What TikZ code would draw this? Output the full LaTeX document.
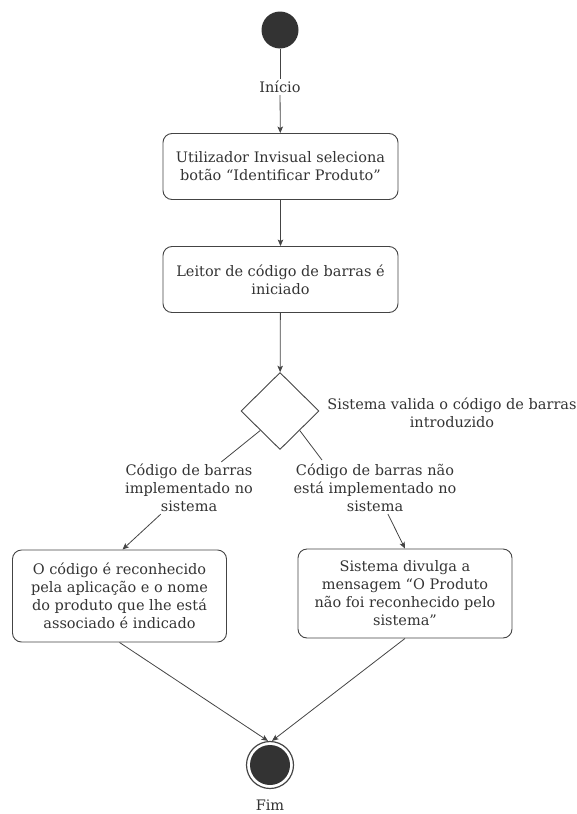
\documentclass[tikz,border=0pt]{standalone}
\usepackage{fontspec}
\setmainfont{DejaVu Serif}
\usetikzlibrary{shapes.geometric,arrows.meta}
\definecolor{ink}{HTML}{333333}
\definecolor{edge}{HTML}{444444}
\begin{document}
\begin{tikzpicture}[x=1pt,y=-1pt,
  txt/.style={font=\fontsize{14.5}{18}\selectfont, text=ink, align=center, inner sep=2pt},
  action/.style={txt, draw=edge, line width=0.9pt, rounded corners=9pt,
    minimum width=235pt, minimum height=66pt},
  decision/.style={diamond, draw=edge, line width=0.9pt, minimum width=78pt,
    minimum height=77pt, inner sep=0pt},
  startdot/.style={circle, fill=ink, minimum size=37pt, inner sep=0pt},
  enddot/.style={circle, draw=edge, line width=1.2pt, minimum size=47pt, inner sep=0pt},
  flow/.style={draw=edge, line width=0.8pt},
  flowarrow/.style={flow, -{Stealth[length=6.5pt,width=5.5pt,inset=1.5pt]}}
]
\useasboundingbox (0,0) rectangle (576,814);

% nodes
\node[startdot] (start) at (280,30) {};
\node[txt] (linit) at (280,87) {Início};
\node[action] (b1) at (280.5,166.5) {Utilizador Invisual seleciona\\botão “Identificar Produto”};
\node[action] (b2) at (280.5,279.5) {Leitor de código de barras é\\iniciado};
\node[decision] (dia) at (280,411) {};
\node[txt] (lq) at (452,412.5) {Sistema valida o código de barras\\introduzido};
\node[txt] (labL) at (189,488) {Código de barras\\implementado no\\sistema};
\node[txt] (labR) at (375,488) {Código de barras não\\está implementado no\\sistema};
\node[action, minimum width=214pt, minimum height=92pt] (b3) at (119.5,596)
  {O código é reconhecido\\pela aplicação e o nome\\do produto que lhe está\\associado é indicado};
\node[action, minimum width=214pt, minimum height=89pt] (b4) at (405,593.5)
  {Sistema divulga a\\mensagem “O Produto\\não foi reconhecido pelo\\sistema”};
\node[enddot] (end) at (270,765) {};
\fill[ink] (end.center) circle (20pt);
\node[txt] (lfim) at (270,805) {Fim};

% connectors
\draw[flow] (start) -- (linit);
\draw[flowarrow] (linit) -- (b1);
\draw[flowarrow] (b1) -- (b2);
\draw[flowarrow] (b2) -- (dia);
\draw[flow] (dia.south west) -- (labL);
\coordinate (rTip) at (322,460);
\draw[flow] (dia.south east) -- (rTip);
\draw[flowarrow] (labL) -- ([xshift=3pt]b3.north);
\draw[flowarrow] (labR) -- (b4.north);
\draw[flowarrow] (b3.south) -- ([xshift=-2pt]end.north);
\draw[flowarrow] (b4.south) -- ([xshift=2pt]end.north);
\end{tikzpicture}
\end{document}
